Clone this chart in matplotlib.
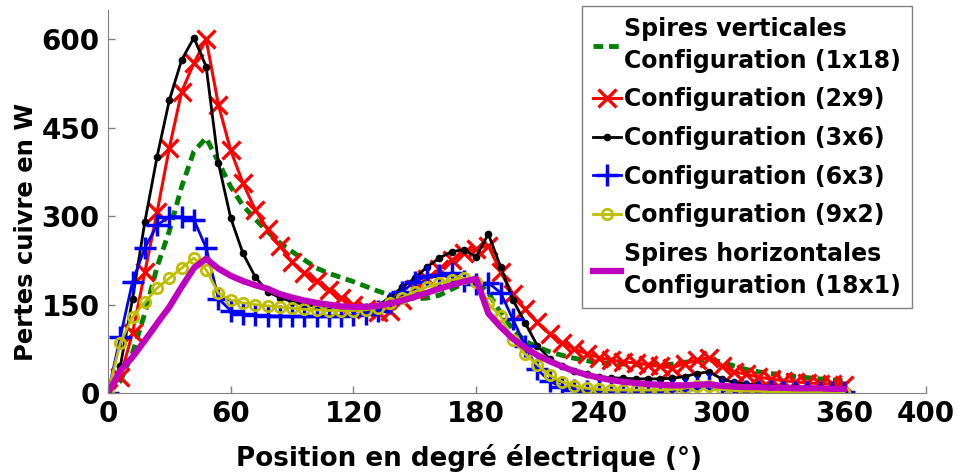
import matplotlib
matplotlib.use('Agg')
import matplotlib.pyplot as plt
import numpy as np

plt.rcParams.update({
    'font.family': 'DejaVu Sans',
    'font.weight': 'bold',
    'axes.labelweight': 'bold',
})

# ---------- data ----------
angle = np.arange(0, 361, 6)

cfg_1x18 = [0, 20, 68, 135, 214, 275, 350, 410, 433, 392,
            350, 318, 295, 274, 255, 240, 226, 212, 203, 196,
            189, 181, 173, 166, 162, 160, 161, 166, 176, 186,
            191, 170, 136, 108, 88, 78, 70, 64, 59, 55,
            51, 50, 49, 48, 48, 48, 49, 52, 55, 56,
            53, 46, 40, 36, 33, 31, 28, 26, 24, 22, 21]
cfg_2x9 = [0, 27, 102, 205, 307, 416, 511, 560, 600, 489,
           412, 356, 311, 278, 250, 222, 204, 190, 175, 162,
           150, 143, 137, 140, 158, 176, 194, 210, 225, 238,
           245, 250, 205, 168, 142, 120, 100, 85, 75, 67,
           60, 56, 53, 51, 48, 45, 43, 50, 56, 60,
           45, 36, 32, 27, 24, 21, 19, 17, 16, 15, 14]
cfg_3x6 = [0, 45, 160, 290, 401, 497, 565, 603, 554, 390,
           297, 237, 197, 172, 162, 155, 150, 147, 145, 144,
           143, 143, 148, 163, 180, 195, 214, 229, 240, 243,
           231, 270, 214, 158, 119, 80, 58, 45, 37, 32,
           28, 26, 25, 24, 24, 24, 25, 28, 33, 36,
           24, 18, 15, 13, 12, 11, 10, 9, 9, 8, 8]
cfg_6x3 = [0, 95, 189, 246, 285, 299, 299, 294, 246, 160,
           140, 134, 132, 131, 130, 130, 130, 130, 130, 131,
           132, 134, 140, 152, 172, 189, 198, 200, 203, 190,
           185, 187, 170, 125, 80, 40, 20, 10, 5, 3,
           3, 3, 3, 3, 4, 4, 5, 7, 10, 15,
           8, 5, 4, 3, 3, 2, 2, 2, 2, 2, 2]
cfg_9x2 = [0, 85, 129, 154, 178, 195, 212, 229, 209, 169,
           158, 153, 150, 148, 146, 144, 142, 141, 140, 140,
           140, 141, 145, 152, 162, 172, 180, 186, 192, 195,
           189, 152, 130, 90, 66, 48, 30, 19, 12, 8,
           6, 5, 5, 5, 5, 5, 6, 8, 12, 12,
           6, 4, 3, 3, 2, 2, 2, 2, 2, 2, 2]
cfg_18x1 = [0, 38, 61, 89, 118, 146, 180, 212, 228, 211,
            199, 190, 183, 177, 168, 162, 157, 153, 150, 147,
            146, 146, 148, 152, 157, 163, 170, 177, 183, 189,
            194, 135, 112, 92, 77, 64, 54, 45, 37, 31,
            26, 22, 19, 17, 15, 14, 13, 13, 14, 15,
            12, 11, 10, 10, 9, 9, 8, 8, 8, 7, 7]

labels = ['Spires verticales\nConfiguration (1x18)',
          'Configuration (2x9)',
          'Configuration (3x6)',
          'Configuration (6x3)',
          'Configuration (9x2)',
          'Spires horizontales\nConfiguration (18x1)']
xticks = [0, 60, 120, 180, 240, 300, 360, 400]
yticks = [0, 150, 300, 450, 600]

# ---------- figure ----------
fig = plt.figure(figsize=(9.58, 4.72), dpi=100)
ax = fig.add_axes([108 / 958, 1 - 393 / 472, 818 / 958, 383 / 472])

ax.plot(angle, cfg_1x18, color='#008000', lw=3.5, ls=(0, (2, 1.2)),
        label=labels[0])
ax.plot(angle, cfg_2x9, color='#FF0000', lw=2.2, marker='x', ms=13, mew=2.4,
        label=labels[1])
ax.plot(angle, cfg_3x6, color='black', lw=2, marker='o', ms=4.5,
        label=labels[2])
ax.plot(angle, cfg_6x3, color='#0000FF', lw=2, marker='+', ms=16, mew=2.5,
        label=labels[3])
ax.plot(angle, cfg_9x2, color='#BFBF00', lw=2, marker='o', ms=7.5, mew=2,
        mfc='none', label=labels[4])
ax.plot(angle, cfg_18x1, color='#BF00BF', lw=4.5, label=labels[5])

ax.set_xlim(0, 400)
ax.set_ylim(0, 650)
ax.set_xticks(xticks)
ax.set_yticks(yticks)
ax.tick_params(direction='in', length=5, color='#808080', labelsize=20,
               width=1)
ax.tick_params(axis='x', pad=5)
ax.tick_params(axis='y', pad=6)
for s in ['top', 'right']:
    ax.spines[s].set_visible(False)
for s in ['left', 'bottom']:
    ax.spines[s].set_color('#808080')

ax.set_xlabel('Position en degré électrique (°)', fontsize=18.8)
ax.set_ylabel('Pertes cuivre en W', fontsize=17.5)
ax.xaxis.set_label_coords(0.441, -0.132)
ax.yaxis.set_label_coords(-0.085, 0.42)

leg = ax.legend(loc='upper right', bbox_to_anchor=(912 / 958, 1 - 6 / 472),
                bbox_transform=fig.transFigure, fontsize=17, frameon=True,
                fancybox=False, edgecolor='#808080', framealpha=1,
                handlelength=1.2, handletextpad=0.15, labelspacing=0.62,
                borderpad=0.45, borderaxespad=0)
leg.get_frame().set_linewidth(1)
for t in leg.get_texts():
    t.set_linespacing(1.42)

fig.savefig('out.png', dpi=100)
